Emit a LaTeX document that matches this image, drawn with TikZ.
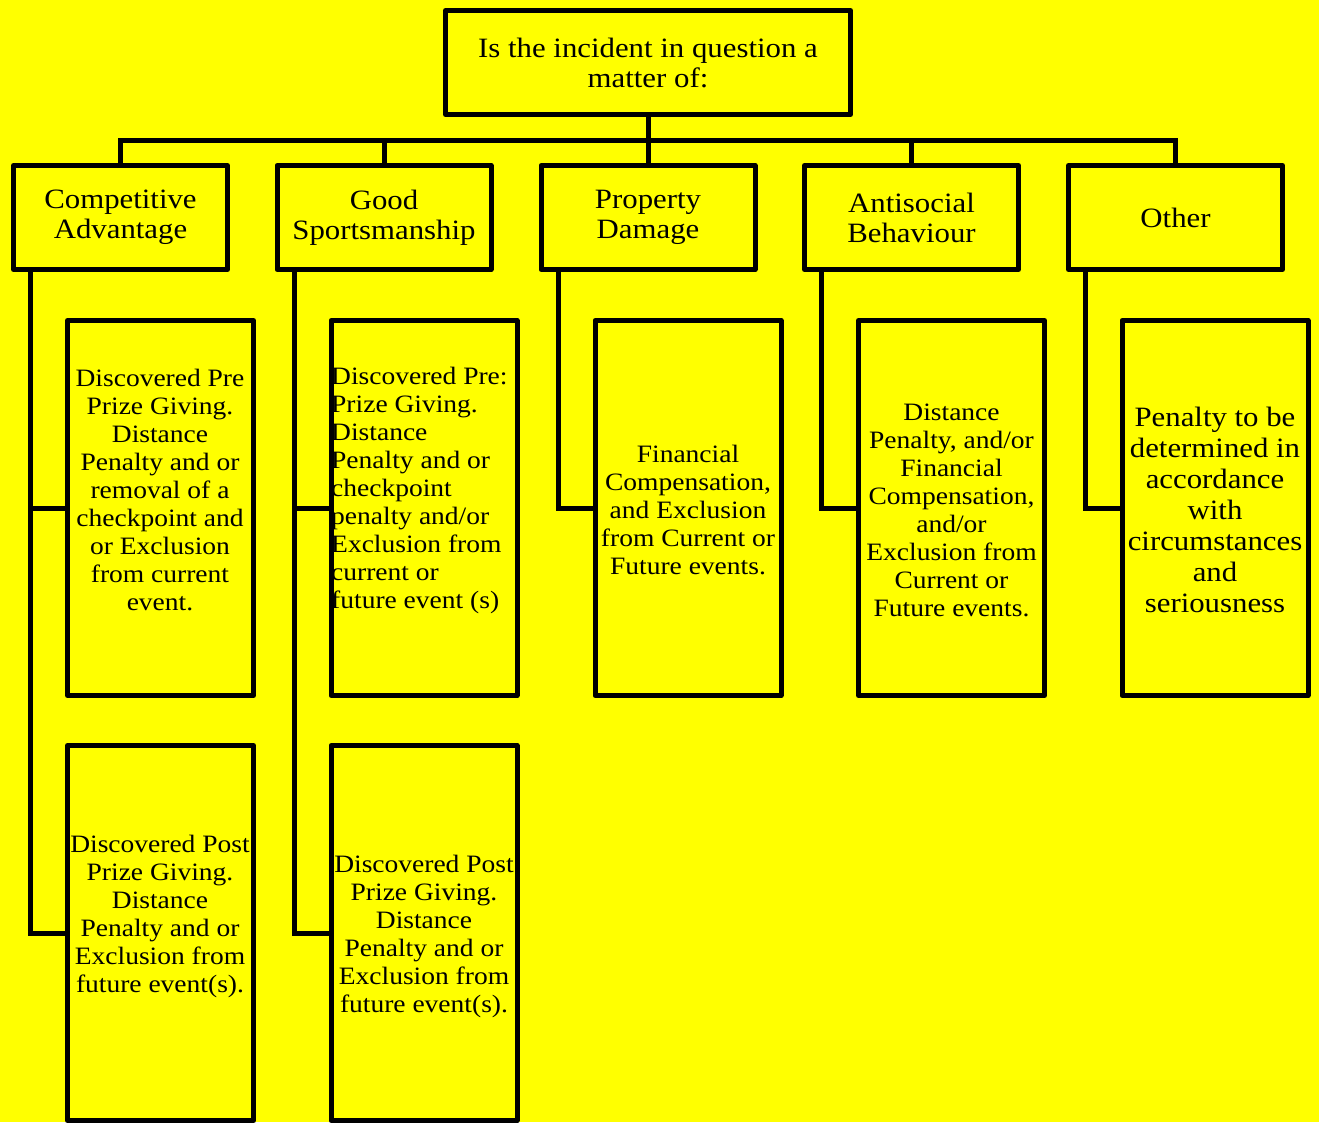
\documentclass[tikz,border=0pt]{standalone}
\usepackage{fontspec}
\setmainfont{Liberation Serif}[FakeStretch=1.1]
\definecolor{bg}{RGB}{255,255,0}
\begin{document}
\begin{tikzpicture}[x=1pt,y=-1pt,
  box/.style={draw=black, line width=5pt, fill=bg, inner sep=0pt, line join=round},
  headbox/.style={box, minimum width=214pt, minimum height=104pt},
  childbox/.style={box, minimum width=186pt, minimum height=375pt},
  big/.style={font=\fontsize{28}{30}\selectfont, align=center},
  small/.style={font=\fontsize{25}{28}\selectfont, align=center, inner sep=0pt},
  link/.style={draw=black, line width=5pt, line join=miter}]
\fill[bg] (0,0) rectangle (1319,1122);
\useasboundingbox (0,0) rectangle (1319,1122);

\coordinate (busy) at (0,140);

% top
\node[box, big, minimum width=405pt, minimum height=104pt] (top) at (648,62.5) {Is the incident in question a\\matter of:};

% headers
\node[headbox, big] (ca) at (120.5,217.5) {Competitive\\Advantage};
\node[headbox, big] (gs) at (384,217.5) {Good\\Sportsmanship};
\node[headbox, big] (pd) at (648,217.5) {Property\\Damage};
\node[headbox, big] (ab) at (911.5,217.5) {Antisocial\\Behaviour};
\node[headbox, big] (ot) at (1175.5,217.5) {Other};

% bus
\draw[link] (top.south) -- (top.south |- busy) -| (ca.north);
\draw[link] (top.south) -- (top.south |- busy) -| (gs.north);
\draw[link] (top.south) -- (top.south |- busy) -| (pd.north);
\draw[link] (top.south) -- (top.south |- busy) -| (ab.north);
\draw[link] (top.south) -- (top.south |- busy) -| (ot.north);

% child boxes
\node[childbox] (ca1) at (160.5,508) {};
\node[childbox] (gs1) at (424,508) {};
\node[childbox] (pd1) at (688,508) {};
\node[childbox] (ab1) at (951.5,508) {};
\node[childbox] (ot1) at (1215,508) {};
\node[childbox] (ca2) at (160.5,933) {};
\node[childbox] (gs2) at (424,933) {};

% side connectors
\draw[link] ([xshift=19.5pt]ca.south west) |- (ca1.west);
\draw[link] ([xshift=19.5pt]ca.south west) |- (ca2.west);
\draw[link] ([xshift=19.5pt]gs.south west) |- (gs1.west);
\draw[link] ([xshift=19.5pt]gs.south west) |- (gs2.west);
\draw[link] ([xshift=19.5pt]pd.south west) |- (pd1.west);
\draw[link] ([xshift=19.5pt]ab.south west) |- (ab1.west);
\draw[link] ([xshift=19.5pt]ot.south west) |- (ot1.west);

% texts
\node[small] (ca1t) at (160,490) {Discovered Pre\\Prize Giving.\\Distance\\Penalty and or\\removal of a\\checkpoint and\\or Exclusion\\from current\\event.};
\node[small, align=left, anchor=west] (gs1t) at (331,490) {Discovered Pre:\\Prize Giving.\\Distance\\Penalty and or\\checkpoint\\penalty and/or\\Exclusion from\\current or\\future event (s)};
\node[small] (pd1t) at (688,510) {Financial\\Compensation,\\and Exclusion\\from Current or\\Future events.};
\node[small] (ab1t) at (951.5,510) {Distance\\Penalty, and/or\\Financial\\Compensation,\\and/or\\Exclusion from\\Current or\\Future events.};
\node[big, inner sep=0pt, font=\fontsize{28}{31}\selectfont] (ot1t) at (1215,510) {Penalty to be\\determined in\\accordance\\with\\circumstances\\and\\seriousness};
\node[small] (ca2t) at (160,916) {Discovered Post\\Prize Giving.\\Distance\\Penalty and or\\Exclusion from\\future event(s).};
\node[small] (gs2t) at (424,936) {Discovered Post\\Prize Giving.\\Distance\\Penalty and or\\Exclusion from\\future event(s).};
\end{tikzpicture}
\end{document}
